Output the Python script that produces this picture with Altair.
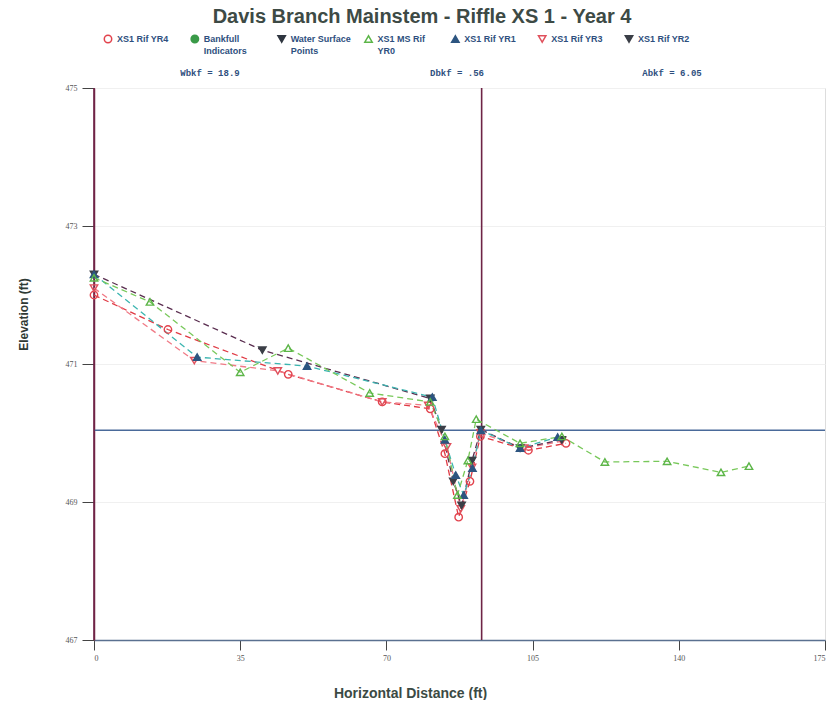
import altair as alt
import pandas as pd

# ---- data ----
series_names = ["XS1 Rif YR4", "Bankfull Indicators", "Water Surface Points",
                "XS1 MS Rif YR0", "XS1 Rif YR1", "XS1 Rif YR3", "XS1 Rif YR2"]
legend_labels = ["XS1 Rif YR4", "Bankfull\nIndicators", "Water Surface\nPoints",
                 "XS1 MS Rif\nYR0", "XS1 Rif YR1", "XS1 Rif YR3", "XS1 Rif YR2"]

yr4_x = [0, 17.7, 46.5, 69, 80.5, 84, 87.3, 90, 92.5, 104, 113]
yr4_y = [472.0, 471.5, 470.85, 470.45, 470.35, 469.7, 468.78, 469.3, 469.95, 469.75, 469.85]

yr3_x = [0, 24, 44, 69, 80, 84.5, 87.8, 90.5, 92.5, 103, 112]
yr3_y = [472.1, 471.05, 470.9, 470.45, 470.4, 469.8, 468.9, 469.5, 470.0, 469.78, 469.88]

yr2_x = [0, 40.3, 80.5, 83.2, 86, 88, 90.5, 92.6, 102, 112]
yr2_y = [472.3, 471.2, 470.5, 470.05, 469.3, 468.95, 469.6, 470.05, 469.78, 469.9]

yr1_x = [0, 24.7, 51, 81, 84, 86.6, 88.5, 90.6, 92.6, 102, 111]
yr1_y = [472.3, 471.1, 470.97, 470.52, 469.9, 469.39, 469.1, 469.49, 470.04, 469.78, 469.94]

yr0_x = [0, 13.4, 35, 46.5, 66, 80.5, 84, 87, 89.5, 91.5, 102, 112, 122.3, 137.2, 150.1, 156.8]
yr0_y = [472.25, 471.9, 470.88, 471.23, 470.58, 470.45, 469.95, 469.1, 469.6, 470.2, 469.85,
         469.95, 469.58, 469.59, 469.43, 469.52]

bankfull_elev = [470.04]
vertical_lines_x = [0, 92.8]
annotations = ["Wbkf = 18.9", "Dbkf = .56", "Abkf = 6.05"]

x_ticks = [0, 35, 70, 105, 140, 175]
y_ticks = [467, 469, 471, 473, 475]

title_text = "Davis Branch Mainstem - Riffle XS 1 - Year 4"
x_title = "Horizontal Distance (ft)"
y_title = "Elevation (ft)"

# ---- build tables ----
rows = []
for name, xs, ys in [("XS1 Rif YR4", yr4_x, yr4_y), ("XS1 Rif YR3", yr3_x, yr3_y),
                     ("XS1 Rif YR2", yr2_x, yr2_y), ("XS1 Rif YR1", yr1_x, yr1_y),
                     ("XS1 MS Rif YR0", yr0_x, yr0_y)]:
    for xv, yv in zip(xs, ys):
        rows.append({"series": name, "x": xv, "y": yv})
df = pd.DataFrame(rows)
legend_df = pd.DataFrame({"series": series_names, "label": legend_labels})

# styles
marker_stroke = ["#e2434d", "#3a9a48", "#2f3640", "#5cb548", "#2d5580", "#e0505c", "#3b3f47"]
marker_fill = ["transparent", "#3a9a48", "#2f3640", "transparent", "#2d5580", "transparent", "#3b3f47"]
marker_shape = ["circle", "circle", "triangle-down", "triangle-up", "triangle-up",
                "triangle-down", "triangle-down"]
line_colors = ["#e03a44", "#3a9a48", "#2f3640", "#78c85a", "#3bb5b0", "#f07a86", "#5a2e50"]

color_scale = alt.Scale(domain=series_names, range=marker_stroke)
fill_scale = alt.Scale(domain=series_names, range=marker_fill)
shape_scale = alt.Scale(domain=series_names, range=marker_shape)

xscale = alt.Scale(domain=[0, 175], nice=False, zero=False)
yscale = alt.Scale(domain=[467, 475], nice=False, zero=False)

x_axis = alt.Axis(values=x_ticks, title=x_title, grid=False, tickSize=10, tickColor="#444444",
                  domainColor="#5a7090", domainWidth=1.5, labelFontSize=8, labelColor="#555555",
                  labelFont="Liberation Serif", labelPadding=4, titleFont="Liberation Sans",
                  titleFontSize=14, titleFontWeight="bold", titleColor="#3b4a44",
                  titleX=316, titleY=46)
y_axis = alt.Axis(values=y_ticks, title=y_title, grid=True, gridColor="#f0f0f0", tickSize=12,
                  tickColor="#444444", domainColor="#7a2a4a", domainWidth=1.5, labelFontSize=8,
                  labelColor="#555555", labelFont="Liberation Serif", labelPadding=5, format="d",
                  titleFont="Liberation Sans", titleFontSize=12, titleFontWeight="bold",
                  titleColor="#2f3a35", titleX=-64, titleY=226, titleAngle=-90)

base = alt.Chart(df)

lines = base.transform_calculate(line_series="datum.series").mark_line(
    strokeDash=[6, 4], strokeWidth=1.3
).encode(
    x=alt.X("x:Q", scale=xscale, axis=x_axis),
    y=alt.Y("y:Q", scale=yscale, axis=y_axis),
    stroke=alt.Stroke("line_series:N", scale=alt.Scale(domain=series_names, range=line_colors), legend=None),
    detail="line_series:N",
)

points = base.mark_point(size=55, strokeWidth=1.4, opacity=1).encode(
    x="x:Q",
    y="y:Q",
    color=alt.Color("series:N", scale=color_scale, legend=None),
    fill=alt.Fill("series:N", scale=fill_scale, legend=None),
    shape=alt.Shape("series:N", scale=shape_scale, legend=None),
)

hline = alt.Chart(pd.DataFrame({"y": bankfull_elev})).mark_rule(color="#4a6a9a", strokeWidth=1.5).encode(
    y="y:Q"
)
vlines = alt.Chart(pd.DataFrame({"x": vertical_lines_x})).mark_rule(color="#6e2446", strokeWidth=1.6).encode(
    x="x:Q"
)

main = alt.layer(hline, vlines, lines, points)

# ---- legend row (drawn as marks, sharing the colour/fill/shape scales) ----
legend_x = alt.X("series:N", scale=alt.Scale(type="point", domain=series_names, range=[14, 535], padding=0),
                 axis=None)
leg_sym = alt.Chart(legend_df).mark_point(size=55, strokeWidth=1.5, opacity=1).encode(
    x=legend_x,
    y=alt.value(-49),
    color=alt.Color("series:N", scale=color_scale, legend=None),
    fill=alt.Fill("series:N", scale=fill_scale, legend=None),
    shape=alt.Shape("series:N", scale=shape_scale, legend=None),
)
leg_txt = alt.Chart(legend_df).mark_text(
    align="left", baseline="alphabetic", dx=9, fontSize=9, fontWeight="bold", color="#2e4f7e",
    font="Liberation Sans", lineBreak="\n", lineHeight=12
).encode(x=legend_x, y=alt.value(-46), text="label:N")
legend_layer = alt.layer(leg_sym, leg_txt)

# ---- annotations and title ----
ann_pos = [116, 363, 578]
ann_layers = []
for txt, px in zip(annotations, ann_pos):
    ann_layers.append(
        alt.Chart(pd.DataFrame({"t": [txt]})).mark_text(
            fontSize=9, fontWeight="bold", color="#2e4f7e", font="Liberation Mono", align="center"
        ).encode(text="t:N", x=alt.value(px), y=alt.value(-15))
    )

title_layer = alt.Chart(pd.DataFrame({"t": [title_text]})).mark_text(
    fontSize=20, fontWeight="bold", color="#3d4a45", font="Liberation Sans", align="center",
    baseline="middle"
).encode(text="t:N", x=alt.value(328), y=alt.value(-71))

chart = alt.layer(main, legend_layer, *ann_layers, title_layer).resolve_scale(
    x="independent"
).properties(
    width=731, height=552,
    autosize=alt.AutoSizeParams(type="none"),
    padding={"left": 86, "top": 80, "right": 2, "bottom": 60},
).configure_view(stroke=None).configure(background="white")

chart.save("out.html", embed_options={"renderer": "svg", "actions": False})
